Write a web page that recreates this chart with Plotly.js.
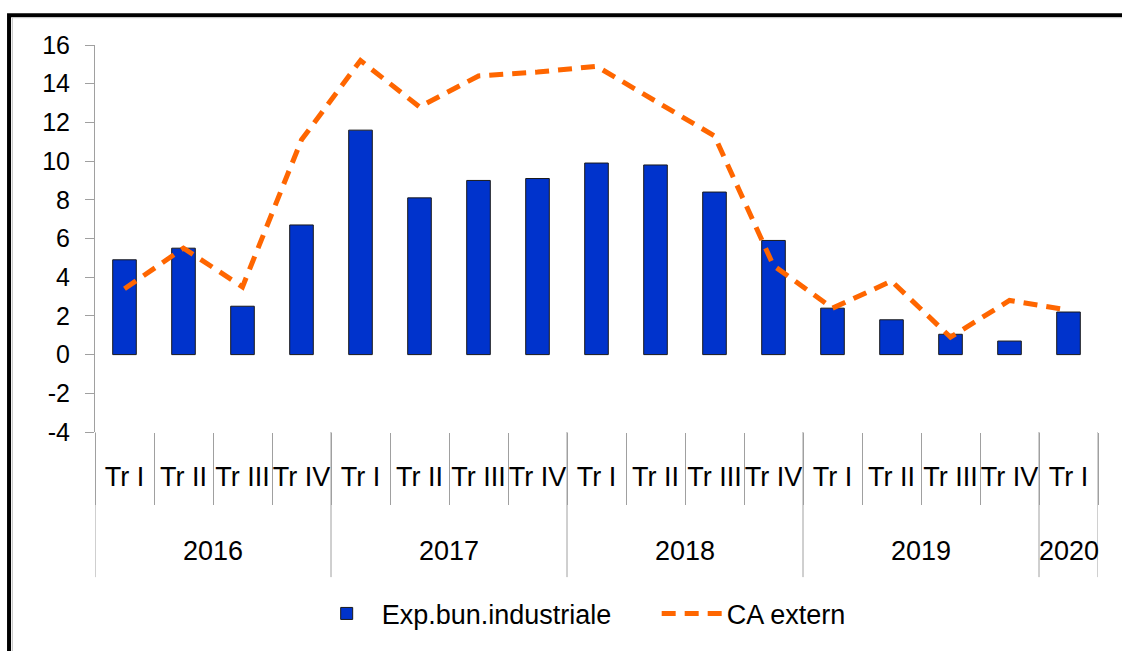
<!DOCTYPE html>
<html>
<head>
<meta charset="utf-8">
<script src="https://cdn.plot.ly/plotly-3.0.1.min.js"></script>
<style>
  html, body { margin: 0; padding: 0; background: #fff; }
  #chart { width: 1122px; height: 651px; }
</style>
</head>
<body>
<div id="chart"></div>
<script>
// year of each quarter (outer label row) and quarter name (inner row)
const years = ['2016', '2016', '2016', '2016',
               '2017', '2017', '2017', '2017',
               '2018', '2018', '2018', '2018',
               '2019', '2019', '2019', '2019',
               '2020'];
const quarters = ['Tr I', 'Tr II', 'Tr III', 'Tr IV',
                  'Tr I', 'Tr II', 'Tr III', 'Tr IV',
                  'Tr I', 'Tr II', 'Tr III', 'Tr IV',
                  'Tr I', 'Tr II', 'Tr III', 'Tr IV',
                  'Tr I'];

// values
const expBunIndustriale = [4.9, 5.5, 2.5, 6.7, 11.6, 8.1, 9.0, 9.1, 9.9, 9.8, 8.4, 5.9, 2.4, 1.8, 1.05, 0.7, 2.2];
const caExtern = [3.4, 5.5, 3.5, 11.1, 15.2, 12.8, 14.4, 14.6, 14.9, 13.1, 11.3, 4.6, 2.4, 3.8, 0.9, 2.8, 2.3];

const seriesNames = ['Exp.bun.industriale', 'CA extern'];
const yTicks = [-4, -2, 0, 2, 4, 6, 8, 10, 12, 14, 16];

const FONT = 'Liberation Sans, Arial, sans-serif';
const AXIS_GREY = '#a0a0a0';
const nCats = quarters.length;
const idx = quarters.map((q, i) => i);

// group the quarters by year: first and last index of each year
const yearGroups = [];
years.forEach((y, i) => {
    const last = yearGroups[yearGroups.length - 1];
    if (last && last.year === y) last.end = i;
    else yearGroups.push({ year: y, start: i, end: i });
});

const traces = [
    {
        type: 'bar',
        name: seriesNames[0],
        x: idx,
        y: expBunIndustriale,
        width: 0.4,
        marker: { color: '#0033cc', line: { color: '#1a1a1a', width: 1 } }
    },
    {
        type: 'scatter',
        mode: 'lines',
        name: seriesNames[1],
        x: idx,
        y: caExtern,
        line: { color: '#ff6600', width: 5, dash: '14px,9px' }
    }
];

// year labels under the quarter labels
const annotations = yearGroups.map(g => ({
    xref: 'x', yref: 'paper',
    x: (g.start + g.end) / 2,
    y: -0.308,
    yanchor: 'middle',
    text: g.year,
    showarrow: false,
    font: { family: FONT, size: 27, color: '#000' }
}));

// long separators between the years (and at both ends)
const yearEdges = yearGroups.map(g => g.start - 0.5).concat([nCats - 0.5]);
const shapes = yearEdges.map(e => ({
    type: 'line', xref: 'x', yref: 'paper',
    x0: e, x1: e, y0: 0, y1: -0.375,
    line: { color: AXIS_GREY, width: 1 }
}));

// outer frame of the picture
shapes.push(
    { type: 'rect', xref: 'paper', yref: 'paper', x0: -0.0857, x1: 1.05, y0: -0.62, y1: 1.077,
      line: { color: '#000', width: 4 }, fillcolor: 'rgba(0,0,0,0)' },
    { type: 'rect', xref: 'paper', yref: 'paper', x0: -0.0823, x1: 1.05, y0: -0.62, y1: 1.0705,
      line: { color: '#c8c8c8', width: 1 }, fillcolor: 'rgba(0,0,0,0)' }
);

const layout = {
    width: 1122,
    height: 651,
    margin: { l: 95, r: 24, t: 45, b: 216 },
    paper_bgcolor: '#ffffff',
    plot_bgcolor: '#ffffff',
    font: { family: FONT, size: 25, color: '#000' },
    showlegend: true,
    legend: {
        orientation: 'h',
        x: 0.56,
        xanchor: 'center',
        y: -0.47,
        yanchor: 'middle',
        font: { family: FONT, size: 27, color: '#000' },
        itemwidth: 60,
        entrywidth: 270,
        bgcolor: 'rgba(0,0,0,0)'
    },
    xaxis: {
        type: 'linear',
        range: [-0.5, nCats - 0.5],
        tickmode: 'array',
        tickvals: idx,
        ticktext: quarters,
        tickangle: 0,
        ticks: '',
        ticklabelstandoff: 26,
        showline: false,
        showgrid: false,
        zeroline: false,
        tickfont: { family: FONT, size: 27, color: '#000' },
        minor: {
            tick0: -0.5,
            dtick: 1,
            ticks: 'outside',
            ticklen: 72,
            tickcolor: AXIS_GREY,
            tickwidth: 1,
            showgrid: false
        }
    },
    // zero line with small ticks at the category boundaries
    xaxis2: {
        overlaying: 'x',
        anchor: 'free',
        position: 0.2,
        type: 'linear',
        range: [-0.5, nCats - 0.5],
        tickmode: 'linear',
        tick0: -0.5,
        dtick: 1,
        ticks: 'outside',
        ticklen: 9,
        tickcolor: AXIS_GREY,
        showline: true,
        linecolor: AXIS_GREY,
        linewidth: 1,
        showticklabels: false,
        showgrid: false,
        zeroline: false
    },
    yaxis: {
        range: [-4, 16],
        tickmode: 'array',
        tickvals: yTicks,
        ticktext: yTicks.map(String),
        ticks: 'outside',
        ticklen: 9,
        tickcolor: AXIS_GREY,
        showline: true,
        linecolor: AXIS_GREY,
        linewidth: 1,
        showgrid: false,
        zeroline: false,
        ticklabelstandoff: 10,
        tickfont: { family: FONT, size: 25, color: '#000' }
    },
    annotations: annotations,
    shapes: shapes
};

Plotly.newPlot('chart', traces, layout, { displayModeBar: false, staticPlot: true });
</script>
</body>
</html>
